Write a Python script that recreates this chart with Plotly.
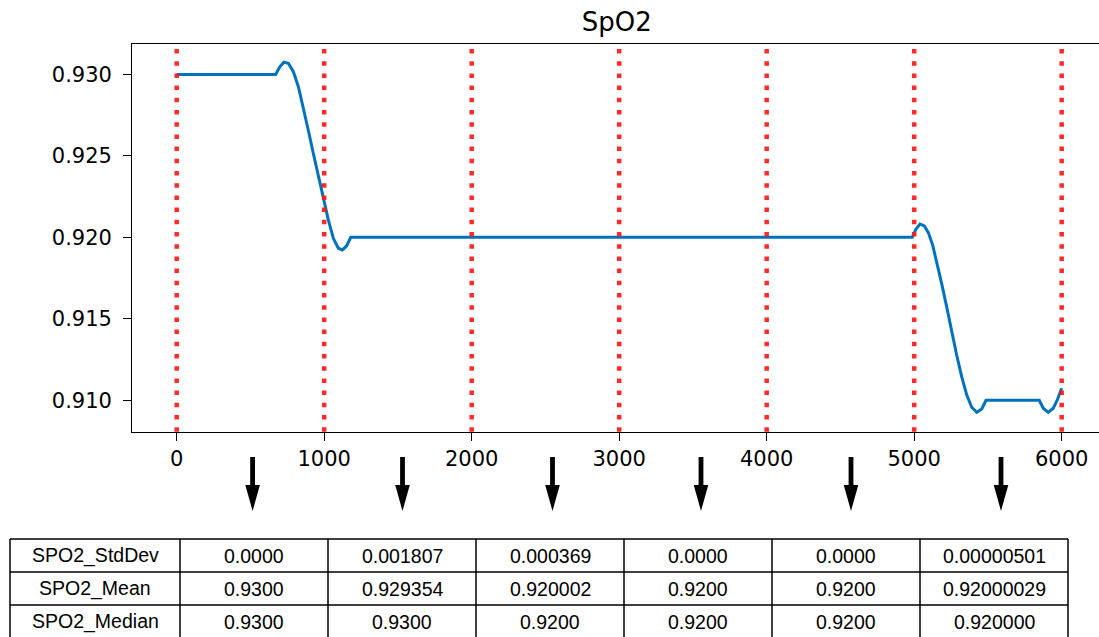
import plotly.graph_objects as go

# ---------------- data ----------------
time_s = [0, 671, 700, 727, 757, 791, 825, 858, 892, 926, 960, 994, 1028, 1062, 1096, 1123, 1152, 1180,
          4987, 5012, 5039, 5069, 5096, 5125, 5153, 5186, 5220, 5254, 5288, 5322, 5356, 5390, 5424, 5458, 5487,
          5848, 5875, 5909, 5943, 5972, 6000]
spo2 = [0.9300, 0.9300, 0.93048, 0.93075, 0.93069, 0.93017, 0.92925, 0.92802, 0.92659, 0.92516, 0.92373,
        0.92250, 0.92107, 0.91994, 0.91933, 0.91923, 0.91947, 0.9200,
        0.9200, 0.92050, 0.92082, 0.92070, 0.92029, 0.91953, 0.91851, 0.91718, 0.91575, 0.91421, 0.91278,
        0.91145, 0.91033, 0.90957, 0.90926, 0.90947, 0.9100,
        0.9100, 0.90951, 0.90926, 0.90951, 0.91006, 0.91074]

window_bounds = [0, 1000, 2000, 3000, 4000, 5000, 6000]
x_ticks = [0, 1000, 2000, 3000, 4000, 5000, 6000]
y_ticks = [0.910, 0.915, 0.920, 0.925, 0.930]

row_labels = ["SPO2_StdDev", "SPO2_Mean", "SPO2_Median"]
std_vals = ["0.0000", "0.001807", "0.000369", "0.0000", "0.0000", "0.00000501"]
mean_vals = ["0.9300", "0.929354", "0.920002", "0.9200", "0.9200", "0.92000029"]
median_vals = ["0.9300", "0.9300", "0.9200", "0.9200", "0.9200", "0.920000"]

# ---------------- layout constants (pixels) ----------------
W, H = 1099, 637
PL, PT, PB = 132.3, 44.3, 431.7
TICK_FONT = dict(family="DejaVu Sans", size=21, color="black")
TABLE_FONT = dict(family="Liberation Sans, Arial", size=19.5, color="black")


def fx(px):
    return px / W


def fy(py):
    return 1 - py / H


fig = go.Figure()
fig.add_trace(go.Scatter(x=time_s, y=spo2, mode="lines",
                         line=dict(color="#0072BD", width=3), hoverinfo="skip"))

for b in window_bounds:
    fig.add_vline(x=b, line=dict(color="rgba(255,20,20,0.9)", width=4.5, dash="4.5px,7.7px"),
                  layer="above")

fig.update_layout(
    width=W, height=H,
    margin=dict(l=0, r=0, t=0, b=0),
    plot_bgcolor="white", paper_bgcolor="white",
    showlegend=False,
    title=dict(text="SpO2", font=dict(family="DejaVu Sans", size=26, color="black"),
               x=616.7 / W, xanchor="center", xref="container",
               y=1 - 21.5 / H, yanchor="middle", yref="container"),
    xaxis=dict(domain=[PL / W, 1], range=[-301, 6253], tickvals=x_ticks,
               ticks="outside", ticklen=8, tickwidth=1.3, tickcolor="black",
               showline=True, linecolor="black", linewidth=1.3, mirror=True,
               showgrid=False, zeroline=False, tickfont=TICK_FONT, ticklabelstandoff=0),
    yaxis=dict(domain=[fy(PB), fy(PT)], range=[0.90807, 0.93185], tickvals=y_ticks,
               tickformat=".3f",
               ticks="outside", ticklen=8, tickwidth=1.3, tickcolor="black",
               showline=True, linecolor="black", linewidth=1.3,
               showgrid=False, zeroline=False, tickfont=TICK_FONT, ticklabelstandoff=7),
)

# arrows from windows to table columns
arrow_x_px = [252.6, 402.5, 552.5, 701, 851, 1001]
for cx in arrow_x_px:
    fig.add_shape(type="rect", xref="paper", yref="paper",
                  x0=fx(cx - 2.4), x1=fx(cx + 2.4), y0=fy(457), y1=fy(489),
                  fillcolor="black", line=dict(width=0))
    path = "M {} {} L {} {} L {} {} Z".format(fx(cx - 7.3), fy(485), fx(cx + 7.3), fy(485), fx(cx), fy(511))
    fig.add_shape(type="path", xref="paper", yref="paper", path=path,
                  fillcolor="black", line=dict(width=0))

# table
col_edges = [10, 180, 328, 476, 624, 772, 920, 1068]
row_edges = [539, 572, 605, 638]
for ye in row_edges:
    fig.add_shape(type="line", xref="paper", yref="paper",
                  x0=fx(col_edges[0]), x1=fx(col_edges[-1]), y0=fy(ye), y1=fy(ye),
                  line=dict(color="black", width=1.5))
for xe in col_edges:
    fig.add_shape(type="line", xref="paper", yref="paper",
                  x0=fx(xe), x1=fx(xe), y0=fy(row_edges[0]), y1=fy(row_edges[-1]),
                  line=dict(color="black", width=1.5))

table_rows = [[row_labels[0]] + std_vals, [row_labels[1]] + mean_vals, [row_labels[2]] + median_vals]
for r, row in enumerate(table_rows):
    yc = (row_edges[r] + row_edges[r + 1]) / 2
    for c, txt in enumerate(row):
        xc = (col_edges[c] + col_edges[c + 1]) / 2
        fig.add_annotation(text=txt, x=fx(xc), y=fy(yc), xref="paper", yref="paper",
                           xanchor="center", yanchor="middle", showarrow=False,
                           font=TABLE_FONT)

fig.write_html("out.html", config={"displayModeBar": False},
               post_script="document.body.style.margin='0px';document.body.style.overflow='hidden';")
